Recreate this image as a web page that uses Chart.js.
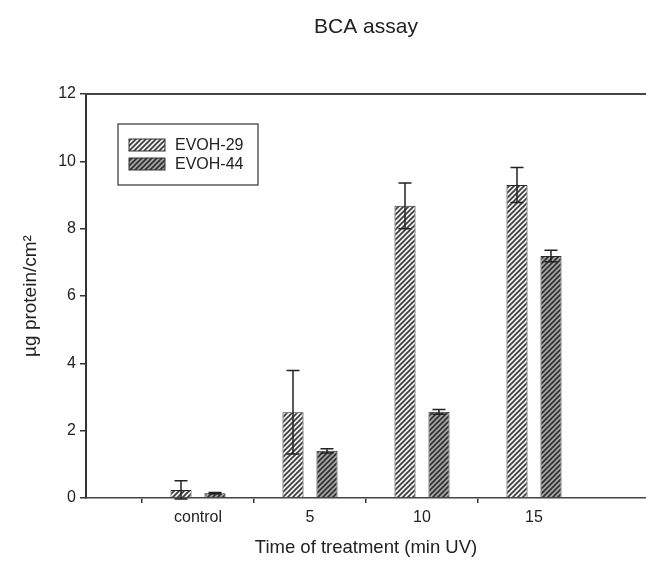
<!DOCTYPE html>
<html>
<head>
<meta charset="utf-8">
<script src="https://cdn.jsdelivr.net/npm/chart.js@4.4.0/dist/chart.umd.min.js"></script>
<style>
    html, body { margin: 0; padding: 0; background: #fff; }
</style>
</head>
<body>
<canvas id="myChart" width="646" height="562"></canvas>
<script>
// Data
const categories = ['control', '5', '10', '15'];
const seriesNames = ['EVOH-29', 'EVOH-44'];
const evoh29 = [0.24, 2.55, 8.68, 9.30];
const evoh29Err = [0.27, 1.24, 0.68, 0.52];
const evoh44 = [0.14, 1.40, 2.56, 7.19];
const evoh44Err = [0.02, 0.06, 0.07, 0.17];
const yTicks = [0, 2, 4, 6, 8, 10, 12];

const FONT = "'Liberation Sans', Arial, sans-serif";
const INK = '#222';

// Hatch pattern: "////" lines on a grey ground
function makeHatch(bg, fg) {
    const s = 5;
    const c = document.createElement('canvas');
    c.width = s; c.height = s;
    const g = c.getContext('2d');
    g.fillStyle = bg;
    g.fillRect(0, 0, s, s);
    g.strokeStyle = fg;
    g.lineWidth = 1.6;
    g.beginPath();
    g.moveTo(-1, s + 1); g.lineTo(s + 1, -1);
    g.moveTo(-1, 1); g.lineTo(1, -1);
    g.moveTo(s - 1, s + 1); g.lineTo(s + 1, s - 1);
    g.stroke();
    return g.createPattern(c, 'repeat');
}
const hatchLight = makeHatch('#efefef', '#3a3a3a');
const hatchDark = makeHatch('#a4a4a4', '#2e2e2e');

// pad the category axis with an empty slot on each side
const labels = [''].concat(categories, ['']);
const pad = arr => [null].concat(arr, [null]);
const errors = [pad(evoh29Err), pad(evoh44Err)];

// error bars, top frame line, legend box and title
const extras = {
    id: 'extras',
    afterDatasetsDraw(chart) {
        const ctx = chart.ctx;
        const y = chart.scales.y;
        ctx.save();
        ctx.strokeStyle = INK;
        ctx.lineWidth = 1.5;
        chart.data.datasets.forEach((ds, di) => {
            const meta = chart.getDatasetMeta(di);
            meta.data.forEach((bar, i) => {
                const v = ds.data[i];
                const e = errors[di][i];
                if (v == null || e == null) return;
                const top = y.getPixelForValue(v + e);
                const bot = y.getPixelForValue(v - e);
                const x = bar.x;
                ctx.beginPath();
                ctx.moveTo(x, top); ctx.lineTo(x, bot);
                ctx.moveTo(x - 6.5, top); ctx.lineTo(x + 6.5, top);
                ctx.moveTo(x - 6.5, bot); ctx.lineTo(x + 6.5, bot);
                ctx.stroke();
            });
        });
        ctx.restore();
    },
    afterDraw(chart) {
        const ctx = chart.ctx;
        const a = chart.chartArea;
        ctx.save();
        // title, centred over the plot area
        ctx.fillStyle = INK;
        ctx.font = '21px ' + FONT;
        ctx.textAlign = 'center';
        ctx.textBaseline = 'middle';
        ctx.fillText('BCA assay', (a.left + a.right) / 2, 27);

        // top frame
        ctx.strokeStyle = '#444';
        ctx.lineWidth = 2;
        ctx.beginPath();
        ctx.moveTo(a.left - 1, a.top);
        ctx.lineTo(a.right, a.top);
        ctx.stroke();

        // legend
        const lx = a.left + 32, ly = a.top + 30;
        ctx.lineWidth = 1.2;
        ctx.strokeStyle = '#333';
        ctx.strokeRect(lx, ly, 140, 61);
        ctx.font = '16px ' + FONT;
        ctx.textAlign = 'left';
        chart.data.datasets.forEach((ds, di) => {
            const sy = ly + 15 + di * 19;
            ctx.fillStyle = ds.backgroundColor;
            ctx.fillRect(lx + 11, sy, 36, 12);
            ctx.lineWidth = 1;
            ctx.strokeRect(lx + 11, sy, 36, 12);
            ctx.fillStyle = INK;
            ctx.fillText(ds.label, lx + 57, sy + 6.5);
        });
        ctx.restore();
    }
};

new Chart(document.getElementById('myChart').getContext('2d'), {
    type: 'bar',
    data: {
        labels: labels,
        datasets: [{
            label: seriesNames[0],
            data: pad(evoh29),
            backgroundColor: hatchLight,
            borderColor: '#2a2a2a',
            borderWidth: 1
        }, {
            label: seriesNames[1],
            data: pad(evoh44),
            backgroundColor: hatchDark,
            borderColor: '#2a2a2a',
            borderWidth: 1
        }]
    },
    options: {
        responsive: false,
        animation: false,
        categoryPercentage: 0.607,
        barPercentage: 0.62,
        layout: { padding: { left: 0, right: 0, top: 94, bottom: 0 } },
        plugins: {
            legend: { display: false },
            tooltip: { enabled: false },
            title: { display: false }
        },
        scales: {
            x: {
                offset: false,
                grid: {
                    drawOnChartArea: false,
                    tickLength: 5,
                    color: ctx => (ctx.index === 0 || ctx.index === labels.length - 1) ? 'rgba(0,0,0,0)' : '#333',
                    lineWidth: 1.5
                },
                border: { color: '#444', width: 1.5 },
                ticks: {
                    color: INK,
                    font: { family: FONT, size: 16 },
                    padding: 5,
                    maxRotation: 0,
                    autoSkip: false
                },
                title: {
                    display: true,
                    text: 'Time of treatment (min UV)',
                    color: INK,
                    font: { family: FONT, size: 18.5 },
                    padding: { top: 0, bottom: 3 }
                },
                afterFit: scale => {
                    scale.height = 64;
                    scale.paddingLeft = 0;
                    scale.paddingRight = 0;
                }
            },
            y: {
                min: yTicks[0],
                max: yTicks[yTicks.length - 1],
                afterBuildTicks: scale => { scale.ticks = yTicks.map(v => ({ value: v })); },
                grid: {
                    drawOnChartArea: false,
                    tickLength: 6,
                    color: '#333',
                    lineWidth: 1.5
                },
                border: { color: '#333', width: 2 },
                ticks: {
                    color: INK,
                    font: { family: FONT, size: 16 },
                    padding: 4
                },
                title: {
                    display: true,
                    text: 'µg protein/cm²',
                    color: INK,
                    font: { family: FONT, size: 19 },
                    padding: { top: 19, bottom: 0 }
                },
                afterFit: scale => { scale.width = 86; }
            }
        }
    },
    plugins: [extras]
});
</script>
</body>
</html>
